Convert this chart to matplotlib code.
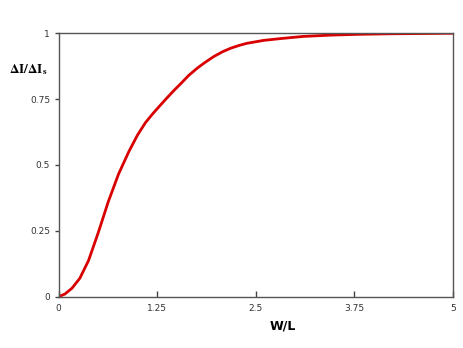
import numpy as np
import matplotlib.pyplot as plt

# curve values
wl = [0, 0.08, 0.17, 0.27, 0.38, 0.5, 0.63, 0.76, 0.89, 1.0, 1.1, 1.19,
      1.27, 1.36, 1.46, 1.57, 1.65, 1.76, 1.86, 1.97, 2.08, 2.18, 2.29, 2.39,
      2.6, 2.82, 3.1, 3.45, 3.8, 4.2, 4.6, 5.0]
ratio = [0, 0.01, 0.032, 0.07, 0.137, 0.24, 0.36, 0.465, 0.55, 0.613, 0.66,
         0.693, 0.72, 0.75, 0.782, 0.815, 0.84, 0.868, 0.89, 0.912, 0.93,
         0.943, 0.954, 0.962, 0.973, 0.98, 0.988, 0.993, 0.996, 0.998, 0.999,
         1.0]

xticks = [0, 1.25, 2.5, 3.75, 5]
xticklabels = ["0", "1.25", "2.5", "3.75", "5"]
yticks = [0, 0.25, 0.5, 0.75, 1]
yticklabels = ["0", "0.25", "0.5", "0.75", "1"]

plt.rcParams["mathtext.fontset"] = "stix"

fig = plt.figure(figsize=(4.63, 3.48), dpi=100)
ax = fig.add_axes([0.1264, 0.1474, 0.852, 0.757])

ax.plot(wl, ratio, color="#d80000", linewidth=2.0, solid_capstyle="round",
        solid_joinstyle="round")

ax.set_xlim(0, 5)
ax.set_ylim(0, 1)
ax.set_xticks(xticks)
ax.set_xticklabels(xticklabels)
ax.set_yticks(yticks)
ax.set_yticklabels(yticklabels)

for s in ax.spines.values():
    s.set_color("#555555")
    s.set_linewidth(1.0)

ax.tick_params(axis="x", direction="in", length=4, width=1, color="#444444",
               labelsize=6.5, labelcolor="#333333", pad=5)
ax.tick_params(axis="y", direction="out", length=3, width=1, color="#444444",
               labelsize=6.5, labelcolor="#333333", pad=3)

fig.text(0.062, 0.80, r"$\mathbf{\Delta I/\Delta I_s}$", fontsize=9.5,
         ha="center", va="center")
fig.text(0.611, 0.064, "W/L", fontsize=9, fontweight="bold",
         ha="center", va="center")

plt.savefig("out.png", dpi=100)
